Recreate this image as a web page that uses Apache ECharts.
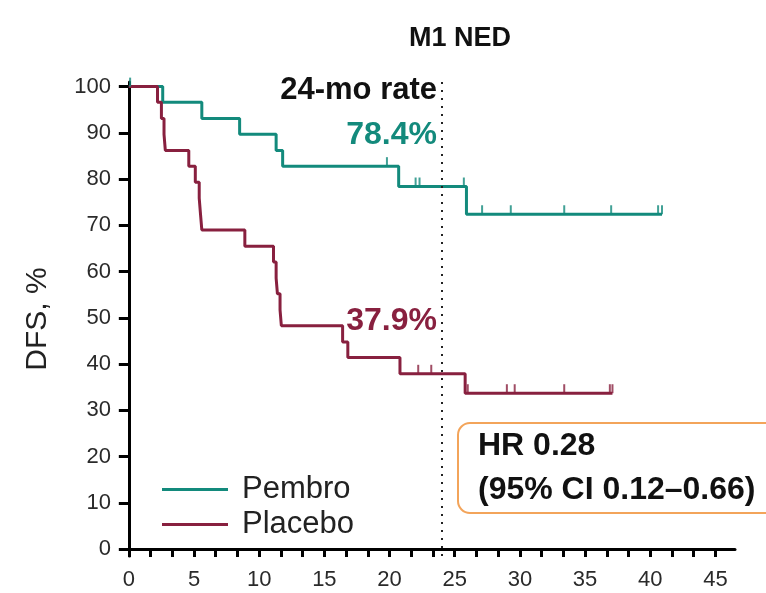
<!DOCTYPE html>
<html><head><meta charset="utf-8">
<script src="https://cdn.jsdelivr.net/npm/echarts@6/dist/echarts.min.js"></script>
<style>html,body{margin:0;padding:0;background:#fff}#c{width:766px;height:593px}</style>
</head><body><div id="c"></div>
<script>
// Kaplan-Meier data (months, DFS %)
var pembroTimes = [0, 2.6, 5.6, 8.5, 11.3, 11.8, 20.7, 25.9, 40.9];
var pembroSurv  = [100, 96.6, 93.1, 89.7, 86.2, 82.8, 78.4, 72.4, 72.4];
var pembroCensor = [0.1, 19.8, 22.0, 22.3, 25.7, 27.1, 29.3, 33.4, 37.0, 40.6, 40.9];

var placeboTimes = [0, 2.2, 2.5, 2.7, 2.8, 4.6, 5.1, 5.4, 5.5, 5.6, 8.9, 11.1, 11.3, 11.4, 11.6, 11.7, 16.4, 16.8, 20.8, 25.8, 37.1];
var placeboSurv  = [100, 96.6, 93.1, 89.7, 86.2, 82.8, 79.3, 75.9, 72.4, 69.0, 65.5, 62.1, 58.6, 55.2, 51.7, 48.3, 44.8, 41.4, 37.9, 33.7, 33.7];
var placeboCensor = [22.2, 23.2, 26.0, 29.0, 29.6, 33.4, 36.9, 37.1];

var xTickLabels = [0, 5, 10, 15, 20, 25, 30, 35, 40, 45];
var yTickLabels = [0, 10, 20, 30, 40, 50, 60, 70, 80, 90, 100];
var landmark = 24;
var rate24 = {pembro: '78.4%', placebo: '37.9%'};

var TEAL = '#138a7c', MAROON = '#88203f';
var FONT = '"Liberation Sans", Arial, sans-serif';

function pairs(t, s) { return t.map(function (v, i) { return [v, s[i]]; }); }
function survAt(t, times, surv) {
  var v = surv[0];
  for (var i = 0; i < times.length; i++) { if (times[i] <= t) v = surv[i]; }
  return v;
}
function censorPts(c, times, surv) { return c.map(function (t) { return [t, survAt(t, times, surv)]; }); }

var xMinor = [];
for (var k = 0; k <= 27; k++) xMinor.push(Math.round(k * 5 / 3 * 1000) / 1000);

var chart = echarts.init(document.getElementById('c'), null, {renderer: 'canvas'});
chart.setOption({
  animation: false,
  backgroundColor: '#fff',
  textStyle: {fontFamily: FONT},
  title: {
    text: 'M1 NED', left: 455, top: 20, textAlign: 'center',
    textStyle: {fontFamily: FONT, fontWeight: 'bold', fontSize: 27, color: '#111'}
  },
  legend: {
    data: ['Pembro', 'Placebo'], orient: 'vertical', left: 157, top: 469,
    itemWidth: 66, itemHeight: 3, itemGap: 4, icon: 'rect',
    textStyle: {fontFamily: FONT, fontSize: 31, lineHeight: 31, color: '#222', padding: [0, 0, 0, 9]}
  },
  grid: {left: 121, top: 82, width: 614, height: 474, containLabel: false},
  xAxis: {
    type: 'value', min: -0.6, max: 46.5,
    axisLine: {onZero: true, lineStyle: {color: '#000', width: 3}},
    axisTick: {customValues: xMinor, length: 8, lineStyle: {color: '#000', width: 3}},
    axisLabel: {customValues: xTickLabels, fontFamily: FONT, fontSize: 22, color: '#2a2a2a', margin: 13},
    splitLine: {show: false}
  },
  yAxis: {
    type: 'value', min: -1.5, max: 101,
    name: 'DFS, %', nameLocation: 'middle', nameRotate: 90, nameGap: 68,
    nameTextStyle: {fontFamily: FONT, fontSize: 30, color: '#222'},
    axisLine: {onZero: true, lineStyle: {color: '#000', width: 3}},
    axisTick: {customValues: yTickLabels, length: 10, lineStyle: {color: '#000', width: 3}},
    axisLabel: {customValues: yTickLabels, fontFamily: FONT, fontSize: 22, color: '#2a2a2a', margin: 10},
    splitLine: {show: false}
  },
  series: [
    {
      name: 'Pembro', type: 'line', step: 'end', data: pairs(pembroTimes, pembroSurv),
      symbol: 'none', lineStyle: {color: TEAL, width: 3}, itemStyle: {color: TEAL}, z: 3,
      markLine: {
        silent: true, symbol: 'none', label: {show: false},
        lineStyle: {color: '#222', type: [2, 6], width: 2},
        data: [{xAxis: landmark}]
      }
    },
    {
      name: 'Placebo', type: 'line', step: 'end', data: pairs(placeboTimes, placeboSurv),
      symbol: 'none', lineStyle: {color: MAROON, width: 3}, itemStyle: {color: MAROON}, z: 3
    },
    {
      name: 'Pembro censored', type: 'scatter', data: censorPts(pembroCensor, pembroTimes, pembroSurv),
      symbol: 'rect', symbolSize: [2, 9], symbolOffset: [0, -4.5], itemStyle: {color: TEAL, opacity: 0.8}, z: 4
    },
    {
      name: 'Placebo censored', type: 'scatter', data: censorPts(placeboCensor, placeboTimes, placeboSurv),
      symbol: 'rect', symbolSize: [2, 9], symbolOffset: [0, -4.5], itemStyle: {color: MAROON, opacity: 0.8}, z: 4
    }
  ],
  graphic: [
    {type: 'text', x: 437, y: 90, style: {text: '24-mo rate', font: 'bold 31px ' + FONT, fill: '#111', align: 'right', verticalAlign: 'middle'}},
    {type: 'text', x: 437, y: 135, style: {text: rate24.pembro, font: 'bold 32px ' + FONT, fill: TEAL, align: 'right', verticalAlign: 'middle'}},
    {type: 'text', x: 437, y: 321, style: {text: rate24.placebo, font: 'bold 32px ' + FONT, fill: MAROON, align: 'right', verticalAlign: 'middle'}},
    {type: 'rect', shape: {x: 458, y: 423, width: 340, height: 90, r: 12},
      style: {fill: 'none', stroke: '#f3a45a', lineWidth: 2}},
    {type: 'text', x: 478, y: 446, style: {text: 'HR 0.28', font: 'bold 32px ' + FONT, fill: '#111', align: 'left', verticalAlign: 'middle'}},
    {type: 'text', x: 478, y: 490, style: {text: '(95% CI 0.12\u20130.66)', font: 'bold 32px ' + FONT, fill: '#111', align: 'left', verticalAlign: 'middle'}}
  ]
});
</script></body></html>
